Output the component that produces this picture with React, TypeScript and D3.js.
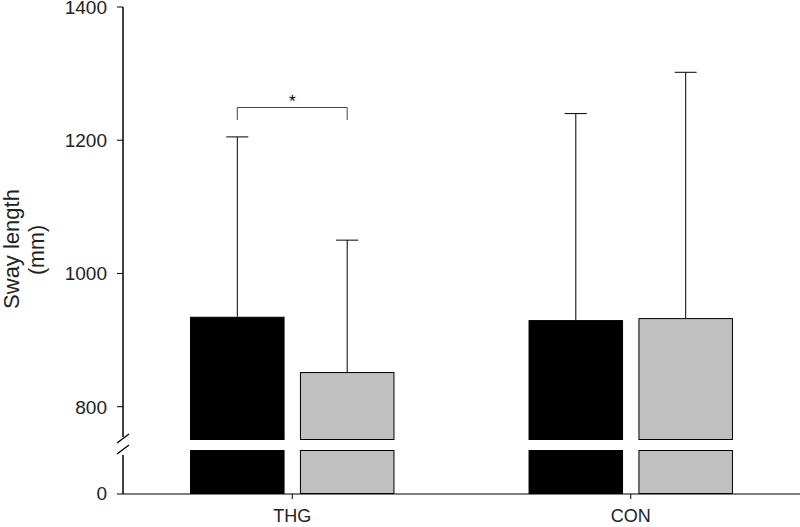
import * as d3 from 'd3'

const GROUPS = ['THG', 'CON']
const CONDITIONS = ['pre', 'post']
const MEANS = [[935, 852], [930, 933]]
const UPPER_ERR = [[1205, 1050], [1240, 1302]]
const UPPER_TICKS = [800, 1000, 1200, 1400]
const LOWER_TICKS = [0]
const COLORS = ['#000000', '#c0c0c0']

const W = 800
const H = 527
const left = 123
const right = 800
const BREAK = 750

export default function App() {
  const yUp = d3.scaleLinear().domain([BREAK, 1400]).range([440, 7])
  const yLow = d3.scaleLinear().domain([0, BREAK]).range([494, 450])

  const x = d3.scaleBand().domain(GROUPS).range([left, right])
  const bw = x.bandwidth()
  const xSub = d3.scaleBand().domain(CONDITIONS).range([0, bw]).paddingInner(0.14).paddingOuter(0.61)

  const font = 'Liberation Sans, Arial, sans-serif'

  // bracket between THG bars
  const b0 = (x('THG') ?? 0) + (xSub('pre') ?? 0) + xSub.bandwidth() / 2
  const b1 = (x('THG') ?? 0) + (xSub('post') ?? 0) + xSub.bandwidth() / 2

  return (
    <svg width={W} height={H} style={{ display: 'block', position: 'absolute', left: 0, top: 0 }} fontFamily={font}>
      <rect width={W} height={H} fill="white" />

      {/* bars */}
      {GROUPS.map((g, gi) => (
        <g key={g}>
          {CONDITIONS.map((c, ci) => {
            const bx = (x(g) ?? 0) + (xSub(c) ?? 0)
            const w = xSub.bandwidth()
            const v = MEANS[gi][ci]
            const cx = bx + w / 2
            return (
              <g key={c}>
                <line x1={cx} x2={cx} y1={yUp(v)} y2={yUp(UPPER_ERR[gi][ci])} stroke="#000" strokeWidth={1} />
                <line x1={cx - 11} x2={cx + 11} y1={yUp(UPPER_ERR[gi][ci])} y2={yUp(UPPER_ERR[gi][ci])} stroke="#000" strokeWidth={1} />
                <rect x={bx + 0.5} y={yUp(v) + 0.5} width={w - 1} height={yUp(BREAK) - yUp(v) - 1} fill={COLORS[ci]} stroke="#000" strokeWidth={1} />
                <rect x={bx + 0.5} y={yLow(BREAK) + 0.5} width={w - 1} height={yLow(0) - yLow(BREAK) - 1} fill={COLORS[ci]} stroke="#000" strokeWidth={1} />
              </g>
            )
          })}
        </g>
      ))}

      {/* significance bracket */}
      <path d={`M${b0},120V107.5H${b1}V120`} fill="none" stroke="#444" strokeWidth={1} />
      <text x={(b0 + b1) / 2} y={107} textAnchor="middle" fontSize={17}>*</text>

      {/* y axis with break */}
      <line x1={left} x2={left} y1={yUp(1400)} y2={437} stroke="#000" strokeWidth={1.5} />
      <line x1={left} x2={left} y1={455} y2={yLow(0)} stroke="#000" strokeWidth={1.5} />
      <line x1={117} x2={129} y1={443} y2={434} stroke="#000" strokeWidth={1.3} />
      <line x1={117} x2={129} y1={454} y2={445} stroke="#000" strokeWidth={1.3} />
      {UPPER_TICKS.map(t => (
        <g key={t}>
          <line x1={left - 6} x2={left} y1={yUp(t)} y2={yUp(t)} stroke="#000" strokeWidth={1} />
          <text x={left - 16} y={yUp(t)} dy="0.36em" textAnchor="end" fontSize={19} fill="#222">{t}</text>
        </g>
      ))}
      {LOWER_TICKS.map(t => (
        <g key={t}>
          <line x1={left - 6} x2={left} y1={yLow(t)} y2={yLow(t)} stroke="#000" strokeWidth={1} />
          <text x={left - 16} y={yLow(t)} dy="0.34em" textAnchor="end" fontSize={19} fill="#222">{t}</text>
        </g>
      ))}

      {/* x axis */}
      <line x1={left} x2={right} y1={yLow(0)} y2={yLow(0)} stroke="#000" strokeWidth={1.2} />
      {GROUPS.map(g => {
        const cx = (x(g) ?? 0) + bw / 2
        return (
          <g key={g}>
            <line x1={cx} x2={cx} y1={yLow(0)} y2={yLow(0) + 5} stroke="#000" strokeWidth={1} />
            <text x={cx} y={522} textAnchor="middle" fontSize={18} fill="#222">{g}</text>
          </g>
        )
      })}

      {/* y label */}
      <text transform="translate(19,249) rotate(-90)" textAnchor="middle" fontSize={22} fill="#222">Sway length</text>
      <text transform="translate(44,250) rotate(-90)" textAnchor="middle" fontSize={21.5} fill="#222">(mm)</text>
    </svg>
  )
}
